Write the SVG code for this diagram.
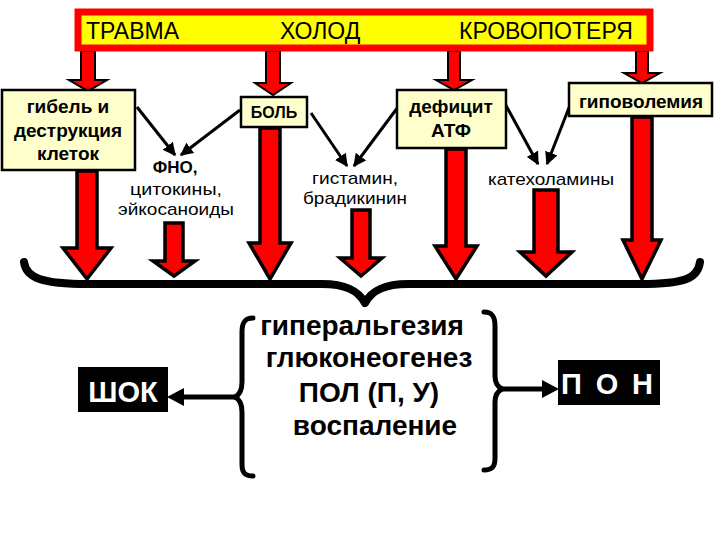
<svg xmlns="http://www.w3.org/2000/svg" width="720" height="540" viewBox="0 0 720 540">
<defs>
<style>
.blk{fill:#FF0000;stroke:#000;stroke-width:3.5;stroke-linejoin:miter}
.blks{fill:#FF0000;stroke:#000;stroke-width:2}
.thin{stroke:#000;stroke-width:3;fill:none;marker-end:url(#ah)}
.box{fill:#FFFFCC;stroke:#000;stroke-width:2.5}
.bt{font-family:"Liberation Sans",Arial,sans-serif;font-weight:bold;font-size:19px;fill:#000;text-anchor:middle}
.mt{font-family:"Liberation Sans",Arial,sans-serif;font-size:17px;fill:#000;text-anchor:middle}
.big{font-family:"Liberation Sans",Arial,sans-serif;font-weight:bold;font-size:28px;fill:#000;text-anchor:middle}
.wt{font-family:"Liberation Sans",Arial,sans-serif;font-weight:bold;font-size:29px;fill:#FFF;text-anchor:middle}
.ban{font-family:"Liberation Sans",Arial,sans-serif;font-size:23px;fill:#000}
.br{fill:none;stroke:#000;stroke-linecap:round;stroke-linejoin:round}
</style>
<marker id="ah" viewBox="0 0 10 10" refX="9" refY="5" markerWidth="13" markerHeight="13" markerUnits="userSpaceOnUse" orient="auto">
<path d="M0,0 L10,5 L0,10 Z" fill="#000"/>
</marker>
</defs>
<rect width="720" height="540" fill="#FFF"/>
<g id="connectors">
<polygon class="blks" points="81,51 95,51 95,80 107,80 88,91 69,80 81,80"/>
<polygon class="blks" points="266,51 280,51 280,83 291,83 273,95 255,83 266,83"/>
<polygon class="blks" points="448,51 460,51 460,80 472,80 454,90 436,80 448,80"/>
<polygon class="blks" points="636,51 648,51 648,73 660,73 642,83 624,73 636,73"/>
<polygon class="blk" points="77,171 97,171 97,248 111,248 87,279 63,248 77,248"/>
<polygon class="blk" points="260,128 280,128 280,243 291,243 270,279 249,243 260,243"/>
<polygon class="blk" points="446,149 466,149 466,246 477,246 456,279 435,246 446,246"/>
<polygon class="blk" points="632,117 652,117 652,240 661,240 642,279 623,240 632,240"/>
<polygon class="blk" points="165,223 183,223 183,261 195,261 174,276 153,261 165,261"/>
<polygon class="blk" points="352,210 370,210 370,258 382,258 361,276 340,258 352,258"/>
<polygon class="blk" points="534,190 558,190 558,252 572,252 546,276 520,252 534,252"/>
<line class="thin" x1="137" y1="107" x2="175" y2="155"/>
<line class="thin" x1="240" y1="110" x2="181" y2="155"/>
<line class="thin" x1="311" y1="113" x2="347" y2="166"/>
<line class="thin" x1="398" y1="107" x2="354" y2="166"/>
<line class="thin" x1="503" y1="100" x2="538" y2="164"/>
<line class="thin" x1="572" y1="100" x2="547" y2="164"/>
<path class="br" stroke-width="8" d="M24,262 C26,278 42,284 88,284 L322,284 C345,284 358,290 365,303 C372,290 385,284 408,284 L640,284 C686,284 698,278 700,262"/>
<path class="br" stroke-width="5" d="M253,318 C245,318 242,322 242,332 L242,382 C242,391 239,395 235,397 C239,399 242,403 242,412 L242,464 C242,473 245,476 253,476"/>
<path class="br" stroke-width="5" d="M484,312 C492,312 495,316 495,326 L495,376 C495,384 498,387 502,389 C498,391 495,394 495,402 L495,458 C495,467 492,470 484,470"/>
<line x1="235" y1="397" x2="180" y2="397" stroke="#000" stroke-width="5"/>
<polygon points="167,397 184,388 184,406" fill="#000"/>
<line x1="502" y1="389" x2="545" y2="389" stroke="#000" stroke-width="5"/>
<polygon points="559,389 542,380 542,398" fill="#000"/>
</g>
<g id="banner">
<rect x="78" y="12" width="572" height="36" fill="#FFFF00" stroke="#FF0000" stroke-width="7"/>
<text class="ban" x="86" y="39">ТРАВМА</text>
<text class="ban" x="280" y="39">ХОЛОД</text>
<text class="ban" x="459" y="39">КРОВОПОТЕРЯ</text>
</g>
<g id="node-gibel">
<rect class="box" x="2" y="90" width="133" height="80"/>
<text class="bt" x="68" y="113">гибель и</text>
<text class="bt" x="68" y="137">деструкция</text>
<text class="bt" x="68" y="160">клеток</text>
</g>
<g id="node-bol">
<rect class="box" x="241" y="97" width="66" height="30"/>
<text class="bt" x="274" y="118" style="font-size:16px">БОЛЬ</text>
</g>
<g id="node-deficit">
<rect class="box" x="397" y="90" width="109" height="58"/>
<text class="bt" x="451" y="113">дефицит</text>
<text class="bt" x="451" y="137">АТФ</text>
</g>
<g id="node-hypovolemia">
<rect class="box" x="569" y="83" width="143" height="33"/>
<text class="bt" x="641" y="108">гиповолемия</text>
</g>
<g id="node-fno">
<text class="mt" x="175" y="173" style="font-weight:bold">ФНО,</text>
<text class="mt" x="176" y="195" textLength="92" lengthAdjust="spacingAndGlyphs">цитокины,</text>
<text class="mt" x="176" y="215" textLength="116" lengthAdjust="spacingAndGlyphs">эйкосаноиды</text>
</g>
<g id="node-histamine">
<text class="mt" x="355" y="184" textLength="86" lengthAdjust="spacingAndGlyphs">гистамин,</text>
<text class="mt" x="355" y="204" textLength="104" lengthAdjust="spacingAndGlyphs">брадикинин</text>
</g>
<g id="node-catecholamines">
<text class="mt" x="551" y="185" textLength="126" lengthAdjust="spacingAndGlyphs">катехоламины</text>
</g>
<g id="node-effects">
<text class="big" x="362" y="335">гиперальгезия</text>
<text class="big" x="369" y="367">глюконеогенез</text>
<text class="big" x="369" y="402">ПОЛ (П, У)</text>
<text class="big" x="375" y="435">воспаление</text>
</g>
<g id="node-shock">
<rect x="78" y="367" width="90" height="45" fill="#000"/>
<text class="wt" x="123" y="402">ШОК</text>
</g>
<g id="node-pon">
<rect x="558" y="360" width="102" height="45" fill="#000"/>
<text class="wt" x="607" y="394" textLength="92" lengthAdjust="spacing">П О Н</text>
</g>
</svg>
